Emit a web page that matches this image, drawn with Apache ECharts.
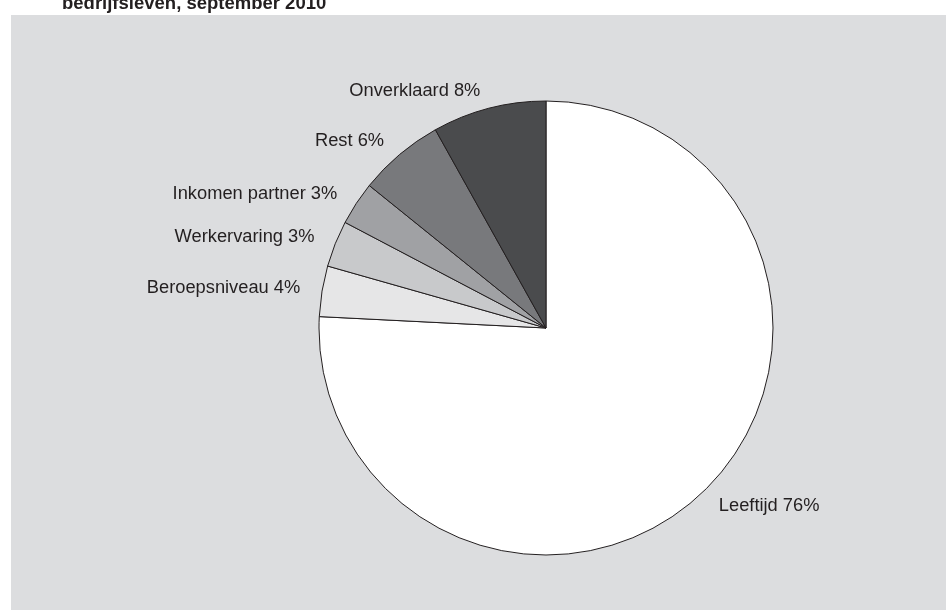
<!DOCTYPE html>
<html>
<head>
<meta charset="utf-8">
<script src="https://cdn.jsdelivr.net/npm/echarts@6/dist/echarts.min.js"></script>
<style>
html,body{margin:0;padding:0;background:#ffffff;}
#chart{width:946px;height:610px;}
</style>
</head>
<body>
<div id="chart"></div>
<script>
const categories = ['Leeftijd', 'Beroepsniveau', 'Werkervaring', 'Inkomen partner', 'Rest', 'Onverklaard'];
const values = [75.8, 3.6, 3.3, 3.1, 6.1, 8.1];
const sliceColors = ['#ffffff', '#e6e6e7', '#c8c9cb', '#a0a1a4', '#78797c', '#4a4b4d'];
const titleText = 'bedrijfsleven, september 2010';

const chart = echarts.init(document.getElementById('chart'), null, {renderer: 'canvas'});
const option = {
  backgroundColor: '#ffffff',
  animation: false,
  title: {
    text: titleText,
    left: 57,
    top: -11,
    textStyle: {fontFamily: 'Liberation Sans, Arial, sans-serif', fontWeight: 'bold', fontSize: 18.5, color: '#231f20'}
  },
  graphic: [{
    type: 'rect',
    z: -10,
    shape: {x: 11, y: 15, width: 935, height: 595},
    style: {fill: '#dcdddf'}
  }],
  series: [{
    type: 'pie',
    center: [546, 328],
    radius: 227,
    startAngle: 90,
    clockwise: true,
    avoidLabelOverlap: false,
    data: categories.map((c, i) => ({name: c, value: values[i], itemStyle: {color: sliceColors[i]}})),
    itemStyle: {borderColor: '#231f20', borderWidth: 1},
    label: {
      show: true,
      position: 'outside',
      formatter: p => p.name + ' ' + Math.round(p.value) + '%',
      fontFamily: 'Liberation Sans, Arial, sans-serif',
      fontSize: 18.3,
      color: '#231f20',
      distanceToLabelLine: 4
    },
    labelLine: {show: false, length: 18, length2: 0},
    emphasis: {disabled: true}
  }]
};
chart.setOption(option);
</script>
</body>
</html>
